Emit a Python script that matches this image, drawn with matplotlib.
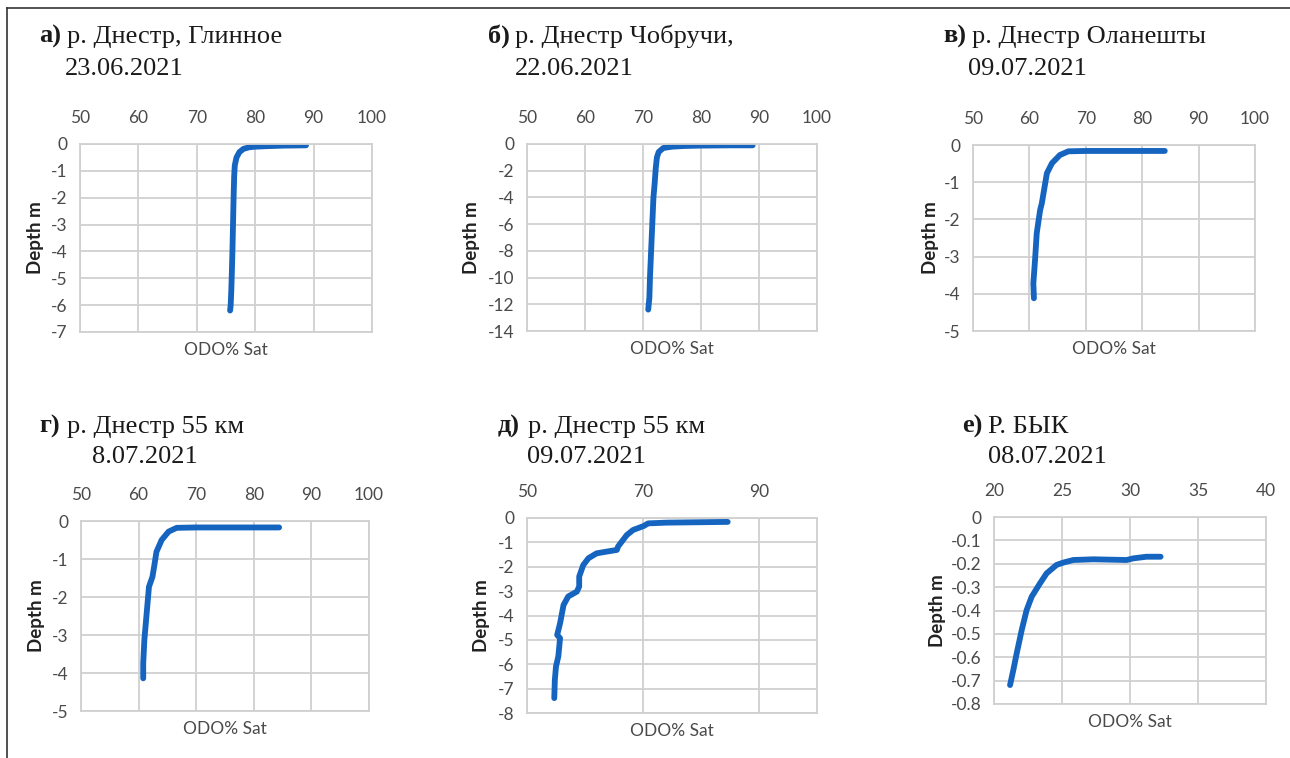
import matplotlib
matplotlib.use("Agg")
import matplotlib.pyplot as plt
from matplotlib.lines import Line2D
from matplotlib.ticker import FuncFormatter

plt.rcParams['axes.unicode_minus'] = False

W, H = 1290, 758

# Данные: насыщение кислородом ODO %, глубина м
odo_a = [88.7, 85, 82, 80, 79, 78, 77.3, 76.8, 76.5, 76.4, 76.3, 76.2, 76.1, 76.0, 75.9, 75.8, 75.7]
depth_a = [-0.05, -0.06, -0.08, -0.1, -0.12, -0.18, -0.3, -0.5, -0.8, -1.2, -2.0, -3.0, -4.0, -4.8, -5.5, -6.0, -6.2]

odo_b = [88.9, 85, 80, 77, 75, 73.5, 72.7, 72.4, 72.2, 72.0, 71.8, 71.6, 71.4, 71.2, 71.1, 70.9]
depth_b = [-0.1, -0.1, -0.12, -0.15, -0.2, -0.3, -0.6, -1.0, -1.8, -3.0, -4.0, -6.0, -8.0, -10, -11.5, -12.4]

odo_c = [84, 80, 75, 70, 66.9, 65.4, 64.0, 63.1, 62.7, 62.2, 61.9, 61.3, 61.0, 60.7, 60.8]
depth_c = [-0.16, -0.16, -0.16, -0.16, -0.17, -0.27, -0.49, -0.76, -1.12, -1.57, -1.75, -2.37, -3.09, -3.72, -4.12]

odo_d = [84.4, 80, 75, 70, 66.6, 65.2, 64.0, 63.1, 62.7, 62.4, 61.8, 61.4, 61.0, 60.8, 60.8]
depth_d = [-0.17, -0.17, -0.17, -0.17, -0.18, -0.28, -0.5, -0.81, -1.2, -1.47, -1.73, -2.43, -3.13, -3.75, -4.14]

odo_e = [84.6, 74.1, 70.9, 70.1, 68.3, 67.2, 65.7, 65.5, 63.7, 62.0, 60.6, 59.7, 59.0, 59.0, 58.6,
         57.1, 56.3, 55.7, 55.2, 55.7, 55.4, 55.0, 54.8, 54.7]
depth_e = [-0.16, -0.19, -0.22, -0.33, -0.49, -0.70, -1.17, -1.31, -1.38, -1.45, -1.65, -1.93, -2.40, -2.81, -3.02,
           -3.22, -3.57, -4.32, -4.80, -4.93, -5.68, -6.09, -6.64, -7.39]

odo_f = [32.25, 31.2, 30.24, 29.75, 27.3, 25.83, 25.1, 24.6, 23.87, 23.38, 22.77, 22.4, 22.04, 21.67, 21.42, 21.18]
depth_f = [-0.170, -0.170, -0.177, -0.184, -0.181, -0.184, -0.195, -0.205, -0.241, -0.284, -0.341, -0.398,
           -0.483, -0.583, -0.655, -0.719]

odo = [odo_a, odo_b, odo_c, odo_d, odo_e, odo_f]
depth = [depth_a, depth_b, depth_c, depth_d, depth_e, depth_f]

letters = ['а)', 'б)', 'в)', 'г)', 'д)', 'е)']
places = ['р. Днестр, Глинное', 'р. Днестр Чобручи,', 'р. Днестр Оланешты',
          'р. Днестр 55 км', 'р. Днестр 55 км', 'Р. БЫК']
dates = ['23.06.2021', '22.06.2021', '09.07.2021', '8.07.2021', '09.07.2021', '08.07.2021']

x_ticks = [[50, 60, 70, 80, 90, 100]] * 4 + [[50, 70, 90], [20, 25, 30, 35, 40]]
x_lims = [(50, 100)] * 5 + [(20, 40)]
y_ticks = [list(range(0, -8, -1)), list(range(0, -16, -2)), list(range(0, -6, -1)),
           list(range(0, -6, -1)), list(range(0, -9, -1)),
           [0, -0.1, -0.2, -0.3, -0.4, -0.5, -0.6, -0.7, -0.8]]

# расположение (пиксели): left, right, top, bottom осей
boxes = [(80, 372, 144, 332), (527, 817, 144, 331), (973, 1255, 145, 331),
         (81, 369, 521, 711), (527, 817, 518, 713), (994, 1266, 517, 704)]
# заголовки: x буквы, x текста, x даты, базовая линия 1, базовая линия 2
heads = [(39, 67, 65, 43, 75), (488, 515, 515, 43, 75), (943, 972, 968, 43, 75),
         (39, 67, 92, 433, 463), (498, 528, 527, 433, 463), (962, 988, 988, 433, 463)]
ylab_off = [-44, -56, -43, -45, -45, -56]

fig = plt.figure(figsize=(W / 100, H / 100), dpi=100)

# рамка
fig.add_artist(Line2D([7 / W, 1], [1 - 8 / H, 1 - 8 / H], transform=fig.transFigure, color='#333333', lw=1.2))
fig.add_artist(Line2D([7 / W, 7 / W], [0, 1 - 8 / H], transform=fig.transFigure, color='#333333', lw=1.2))

grid_c = '#d0d0d0'
tick_c = '#4a4a4a'
line_c = '#1565c0'
serif = 'Liberation Serif'
sans = 'Lato'

for i in range(6):
    l, r, t, b = boxes[i]
    ax = fig.add_axes([l / W, 1 - b / H, (r - l) / W, (b - t) / H])
    ax.plot(odo[i], depth[i], color=line_c, lw=4.2, solid_capstyle='round', solid_joinstyle='round')
    ax.set_xlim(*x_lims[i])
    ax.set_ylim(y_ticks[i][-1], 0)
    ax.set_xticks(x_ticks[i])
    ax.set_yticks(y_ticks[i])
    ax.yaxis.set_major_formatter(FuncFormatter(lambda v, p: '%g' % v if abs(v) > 1e-9 else '0'))
    ax.xaxis.tick_top()
    ax.tick_params(axis='x', length=0, pad=13, labelsize=12.5, labelcolor=tick_c)
    ax.tick_params(axis='y', length=0, pad=9, labelsize=12.5, labelcolor=tick_c)
    for lab in ax.get_xticklabels() + ax.get_yticklabels():
        lab.set_fontfamily(sans)
    ax.grid(True, color=grid_c, lw=1.3)
    for s in ax.spines.values():
        s.set_color(grid_c)
        s.set_linewidth(1.3)
    ax.set_axisbelow(True)

    ax.annotate('ODO% Sat', xy=(0.5, 0), xycoords='axes fraction', xytext=(0, -18),
                textcoords='offset pixels', ha='center', va='center',
                fontsize=12.5, family=sans, color=tick_c)
    ax.annotate('Depth m', xy=(0, 0.5), xycoords='axes fraction', xytext=(ylab_off[i], 0),
                textcoords='offset pixels', ha='center', va='center', rotation=90,
                fontsize=13.5, family=sans, fontweight='bold', color='#222222')

    xl, xt, xd, y1, y2 = heads[i]
    fig.text(xl / W, 1 - y1 / H, letters[i], fontsize=19, family=serif, fontweight='bold',
             ha='left', va='baseline', color='#1a1a1a')
    fig.text(xt / W, 1 - y1 / H, places[i], fontsize=19, family=serif,
             ha='left', va='baseline', color='#1a1a1a')
    fig.text(xd / W, 1 - y2 / H, dates[i], fontsize=19, family=serif,
             ha='left', va='baseline', color='#1a1a1a')

fig.savefig('out.png', dpi=100)
